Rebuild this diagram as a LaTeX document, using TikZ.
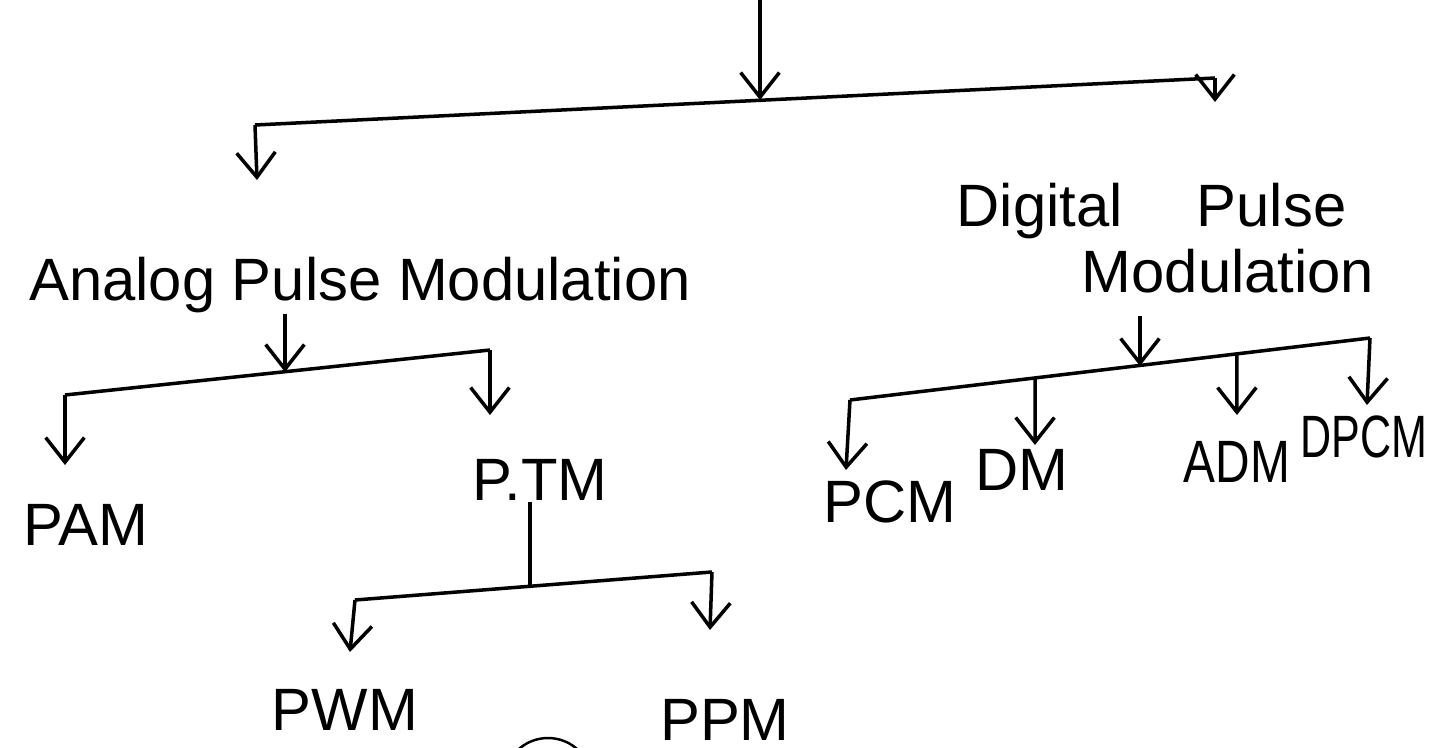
\documentclass[tikz,border=0pt]{standalone}
\usepackage{fontspec}
\setmainfont{Liberation Sans}
\usetikzlibrary{arrows.meta,positioning,calc}

\begin{document}
\begin{tikzpicture}[x=0.01cm, y=-0.01cm, >={Straight Barb[length=7pt,width=11pt]},
    line width=1pt,
    lbl/.style={font=\fontsize{17}{20}\selectfont, anchor=base, inner sep=0pt}]
    \useasboundingbox (0,0) rectangle (1432,748);
    \clip (0,0) rectangle (1432,748);

    % labels
    \node[lbl] (apm) at (360,300) {Analog Pulse Modulation};
    \node[lbl, anchor=north west, align=left, font=\fontsize{17}{19}\selectfont]
        (dpm) at (955,181) {Digital\hspace{0.74cm}Pulse\\\hspace*{1.25cm}Modulation};
    \node[lbl] (pam) at (86,545) {PAM};
    \node[lbl] (ptm) at (540,500) {P.TM};
    \node[lbl] (pwm) at (345,730) {PWM};
    \node[lbl] (ppm) at (725,740) {PPM};
    \node[lbl] (pcm) at (890,522) {PCM};
    \node[lbl] (dm) at (1022,490) {DM};
    \node[lbl] (adm) at (1237,482) {\scalebox{0.8}[1]{ADM}};
    \node[lbl, anchor=base east] (dpcm) at (1429,457) {\scalebox{0.72}[1]{DPCM}};

    % top split
    \coordinate (top) at (760,0);
    \coordinate (top-j) at (760,100);
    \coordinate (apm-c) at (255,125);
    \coordinate (dpm-c) at (1215,78);
    \coordinate (apm-in) at (257,180);
    \coordinate (dpm-in) at (1215,102);
    \draw[->] (top) -- (top-j);
    \draw (apm-c) -- (dpm-c);
    \draw[->] (apm-c) -- (apm-in);
    \draw[->] (dpm-c) -- (dpm-in);

    % analog side
    \coordinate (apm-j) at (285,372);
    \coordinate (pam-c) at (65,395);
    \coordinate (ptm-c) at (490,350);
    \draw[->] (apm.south -| apm-j) -- (apm-j);
    \draw (pam-c) -- (ptm-c);
    \draw[->] (pam-c) -- (65,465);
    \draw[->] (ptm-c) -- (490,415);

    \coordinate (ptm-j) at (530,586);
    \coordinate (pwm-c) at (355,600);
    \coordinate (ppm-c) at (712,572);
    \draw (ptm.south -| ptm-j) -- (ptm-j);
    \draw (pwm-c) -- (ppm-c);
    \draw[->] (pwm-c) -- (350,652);
    \draw[->] (ppm-c) -- (710,630);

    % digital side
    \coordinate (dpm-j) at (1140,366);
    \coordinate (pcm-c) at (850,400);
    \coordinate (dpcm-c) at (1370,338);
    \draw[->, shorten <=6pt] (dpm.south -| dpm-j) -- (dpm-j);
    \draw (pcm-c) -- (dpcm-c);
    \draw[->] (pcm-c) -- (846,470);
    \draw[->] ($(pcm-c)!0.356!(dpcm-c)$) -- (1035,445);
    \draw[->] ($(pcm-c)!0.744!(dpcm-c)$) -- (1237,415);
    \draw[->] (dpcm-c) -- (1367,405);

    % stray mark at the bottom
    \draw[line width=0.7pt] (548,782) circle (44);
\end{tikzpicture}
\end{document}
